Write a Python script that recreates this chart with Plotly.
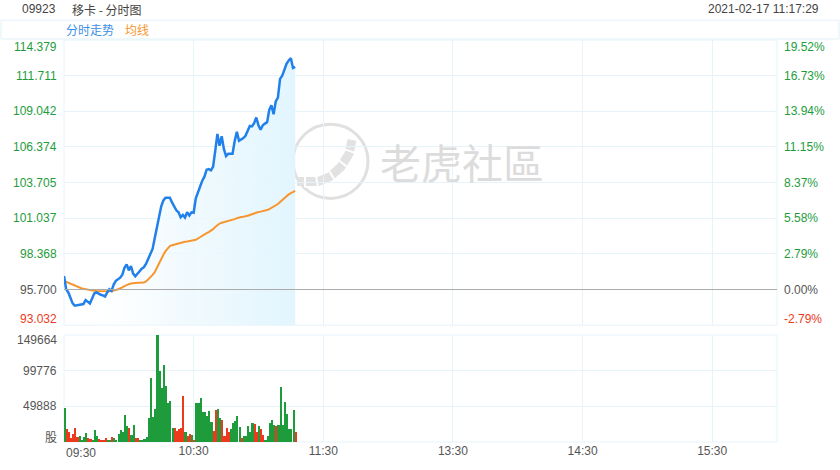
import plotly.graph_objects as go

# ---------------- data ----------------
minutes = list(range(108))  # minutes after 09:30
price = [96.72, 95.72, 95.48, 95.11, 94.66, 94.49, 94.51, 94.54, 94.59, 94.61,
         94.91, 94.81, 94.66, 95.03, 95.40, 95.48, 95.37, 95.31, 95.26, 95.18,
         95.48, 95.72, 95.60, 96.07, 96.35, 96.48, 96.59, 96.81, 97.33, 97.58,
         97.13, 97.46, 96.89, 96.69, 96.89, 97.03, 97.26, 97.37, 97.63, 98.00,
         98.37, 98.74, 99.55, 100.30, 101.19, 101.93, 102.37, 102.57, 102.57, 102.57,
         102.22, 101.93, 101.63, 101.48, 101.11, 101.28, 101.09, 101.48, 101.24, 101.48,
         101.45, 102.52, 103.04, 103.41, 103.85, 104.15, 104.67, 104.71, 104.62, 104.89,
         106.08, 107.34, 106.47, 107.17, 106.23, 105.69, 105.86, 105.86, 105.86, 106.82,
         107.51, 106.84, 106.93, 107.04, 107.21, 107.56, 107.95, 107.91, 108.15, 108.58,
         108.00, 107.66, 108.00, 108.12, 108.23, 109.14, 109.49, 108.82, 109.78, 110.06,
         111.47, 111.71, 112.16, 112.60, 112.85, 113.02, 112.28, 112.36]
avg_price = [96.35, 96.28, 96.22, 96.15, 96.07, 95.98, 95.90, 95.85, 95.80, 95.76,
             95.72, 95.69, 95.66, 95.63, 95.60, 95.59, 95.58, 95.57, 95.56, 95.55,
             95.56, 95.57, 95.58, 95.60, 95.66, 95.72, 95.77, 95.86, 95.96, 96.05,
             96.10, 96.15, 96.18, 96.20, 96.20, 96.21, 96.21, 96.22, 96.30, 96.45,
             96.59, 96.80, 97.00, 97.35, 97.70, 98.00, 98.30, 98.57, 98.75, 98.95,
             99.02, 99.07, 99.10, 99.13, 99.19, 99.25, 99.28, 99.30, 99.32, 99.34,
             99.35, 99.42, 99.52, 99.63, 99.75, 99.83, 99.92, 100.00, 100.10, 100.22,
             100.38, 100.52, 100.64, 100.70, 100.74, 100.77, 100.80, 100.84, 100.90, 100.97,
             101.04, 101.11, 101.13, 101.15, 101.16, 101.22, 101.28, 101.35, 101.42, 101.47,
             101.50, 101.53, 101.56, 101.60, 101.65, 101.72, 101.80, 101.88, 101.98, 102.10,
             102.25, 102.40, 102.57, 102.70, 102.82, 102.92, 103.03, 103.08]
volume = [48000, 18000, 14400, 5000, 11000, 19000, 6500, 8800, 2800, 7400,
          12500, 5500, 4000, 1800, 16600, 8800, 4000, 2800, 2800, 5000,
          1800, 2800, 7400, 6000, 1800, 10600, 16600, 13400, 37400, 22600,
          19400, 9700, 24000, 6000, 6000, 1800, 1800, 4000, 6500, 33000,
          89700, 35000, 46700, 149664, 99800, 75800, 108000, 78000, 54000, 57300,
          19400, 19800, 15700, 18000, 19400, 64200, 13400, 8800, 11500, 9700,
          3200, 54000, 54000, 61900, 42000, 42000, 36500, 43600, 28200, 15700,
          45000, 46700, 34000, 30600, 7900, 19000, 13400, 18000, 26000, 29700,
          36500, 21300, 6000, 7900, 7900, 22600, 13400, 26500, 25000, 14400,
          21700, 18000, 9700, 3200, 8800, 26000, 30600, 24000, 22600, 23500,
          77000, 24000, 56000, 39700, 18000, 18000, 45000, 14400]
vol_dir = list("grrrrrrgggg" "rrggg" "rrrr" "ggrggggggg" "rgg" "rr" "ggggg" "ggggggggggg"
               "rrrrr" "grrgrg" "gggggggrr" "ggrrrr" "ggggg" "rggggg" "rrgrrggggg" "rgg"
               "ggggggrg")
price_ticks = [93.032, 95.700, 98.368, 101.037, 103.705, 106.374, 109.042, 111.711, 114.379]
pct_labels = ["-2.79%", "0.00%", "2.79%", "5.58%", "8.37%", "11.15%", "13.94%", "16.73%", "19.52%"]
prev_close = 95.700
vol_ticks = [0, 49888, 99776, 149664]
vol_labels = ["股", "49888", "99776", "149664"]
time_ticks = [0, 60, 120, 180, 240, 300]
time_labels = ["09:30", "10:30", "11:30", "13:30", "14:30", "15:30"]
session_minutes = 330

vol_dir = (vol_dir + ["g"] * len(volume))[:len(volume)]

# ---------------- style ----------------
GREEN = "#1e9c3c"
RED = "#ee3a1c"
GRAY = "#555555"
GRID = "#e6f4fa"
FONT = "Arial, Liberation Sans, Noto Sans CJK SC, sans-serif"
CJK = "Noto Sans CJK SC, Arial, sans-serif"

W, H = 840, 470
SL, SR, ST, SB = 64, 777, 40, 446   # plot area in page pixels
L, T, R, B = SL, ST, W - SR, H - SB
PW, PH = W - L - R, H - T - B


def px_x(x):  # page x -> paper
    return (x - SL) / PW


def px_y(y):  # page y -> paper
    return (SB - y) / PH


price_dom = [px_y(328), 1.0]
vol_dom = [0.0, px_y(338)]

fig = go.Figure()

fig.add_trace(go.Scatter(
    x=minutes, y=price, mode="lines", line=dict(width=0),
    fill="tozeroy",
    fillgradient=dict(type="horizontal",
                      colorscale=[[0, "rgba(255,255,255,0)"],
                                  [0.5, "rgba(238,249,254,0.8)"],
                                  [1, "rgba(226,245,254,1)"]]),
    hoverinfo="skip", showlegend=False, xaxis="x", yaxis="y"))
fig.add_trace(go.Scatter(x=minutes, y=avg_price, mode="lines",
                         line=dict(color="#f7962e", width=2), showlegend=False,
                         xaxis="x", yaxis="y"))
fig.add_trace(go.Scatter(x=minutes, y=price, mode="lines",
                         line=dict(color="#2180ea", width=2.5), showlegend=False,
                         xaxis="x", yaxis="y"))
fig.add_trace(go.Bar(x=minutes, y=volume,
                     marker=dict(color=[GREEN if d == "g" else RED for d in vol_dir],
                                 line=dict(width=0)),
                     width=0.75, offset=0, showlegend=False,
                     xaxis="x2", yaxis="y2"))

axis_common = dict(showline=False, zeroline=False, showgrid=True, gridcolor=GRID,
                   gridwidth=1, ticks="")

fig.update_layout(
    width=W, height=H,
    margin=dict(l=L, r=R, t=T, b=B, pad=0),
    paper_bgcolor="white", plot_bgcolor="white",
    font=dict(family=FONT, size=12, color=GRAY),
    bargap=0,
    xaxis=dict(domain=[0, 1], range=[0, session_minutes], anchor="y",
               tickvals=time_ticks, showticklabels=False, **axis_common),
    yaxis=dict(domain=price_dom, range=[price_ticks[0], price_ticks[-1]], anchor="x",
               tickvals=price_ticks, showticklabels=False, **axis_common),
    xaxis2=dict(domain=[0, 1], range=[0, session_minutes], anchor="y2",
                tickvals=time_ticks[1:], ticktext=time_labels[1:],
                tickfont=dict(size=12, color=GRAY, family=FONT), **axis_common),
    yaxis2=dict(domain=vol_dom, range=[0, vol_ticks[-1]], anchor="x2",
                tickvals=vol_ticks, showticklabels=False, **axis_common),
)

shapes = []
for dom in (price_dom, vol_dom):
    shapes.append(dict(type="rect", xref="paper", yref="paper", x0=0, x1=1,
                       y0=dom[0], y1=dom[1], line=dict(color=GRID, width=1), layer="below"))
shapes.append(dict(type="line", xref="paper", yref="y", x0=0, x1=1,
                   y0=prev_close, y1=prev_close, line=dict(color="#aaaaaa", width=1)))
shapes.append(dict(type="rect", xref="paper", yref="paper", x0=px_x(1), x1=px_x(839),
                   y0=px_y(39), y1=px_y(20), line=dict(color="#e3f1f8", width=1)))
shapes.append(dict(type="circle", xref="paper", yref="paper",
                   x0=px_x(293), x1=px_x(368), y0=px_y(200), y1=px_y(125),
                   line=dict(color="#e0e0e0", width=3), layer="below"))


def pth(pts):
    return "M " + " L ".join(f"{px_x(a)},{px_y(b)}" for a, b in pts)


shapes.append(dict(type="path", xref="paper", yref="paper",
                   path=pth([(297, 183), (318, 183), (330, 178), (341, 168), (349, 155), (352, 141)]),
                   line=dict(color="#e2e2e2", width=9), layer="below"))
for a, b in [((305, 178), (305, 189)), ((316, 177), (318, 189)), ((329, 172), (335, 182)),
             ((338, 161), (347, 168)), ((343, 150), (355, 154))]:
    shapes.append(dict(type="line", xref="paper", yref="paper",
                       x0=px_x(a[0]), y0=px_y(a[1]), x1=px_x(b[0]), y1=px_y(b[1]),
                       line=dict(color="white", width=2), layer="below"))
fig.update_layout(shapes=shapes)

ann = []


def add_text(text, x, y, color=GRAY, size=12, xanchor="left", family=FONT):
    ann.append(dict(text=text, xref="paper", yref="paper", x=px_x(x), y=px_y(y),
                    xanchor=xanchor, yanchor="middle", showarrow=False,
                    font=dict(color=color, size=size, family=family)))


add_text("09923", 20, 9, color="#444444")
add_text("移卡 - 分时图", 70, 9, color="#444444", family=CJK)
add_text("2021-02-17 11:17:29", 821, 9, color="#444444", xanchor="right")
add_text("分时走势", 64, 29, color="#3d8fe6", family=CJK)
add_text("均线", 123, 29, color="#f7962e", family=CJK)

for i, (v, p) in enumerate(zip(price_ticks, pct_labels)):
    if v > prev_close + 1e-9:
        c = GREEN
    elif v < prev_close - 1e-9:
        c = RED
    else:
        c = GRAY
    shift = 0
    if i == len(price_ticks) - 1:
        shift = -7
    elif i == 0:
        shift = 6
    ann.append(dict(text=f"{v:.3f}", xref="paper", yref="y", x=0, y=v, xanchor="right",
                    yanchor="middle", xshift=-5, yshift=shift, showarrow=False,
                    font=dict(color=c, size=12, family=FONT)))
    ann.append(dict(text=p, xref="paper", yref="y", x=1, y=v, xanchor="left",
                    yanchor="middle", xshift=5, yshift=shift, showarrow=False,
                    font=dict(color=c, size=12, family=FONT)))

for i, (v, t) in enumerate(zip(vol_ticks, vol_labels)):
    shift = 6 if i == 0 else (-5 if i == len(vol_ticks) - 1 else 0)
    ann.append(dict(text=t, xref="paper", yref="y2", x=0, y=v, xanchor="right",
                    yanchor="middle", xshift=-5, yshift=shift, showarrow=False,
                    font=dict(color=GRAY, size=12, family=CJK if t == "股" else FONT)))

ann.append(dict(text=time_labels[0], xref="x2", yref="paper", x=time_ticks[0], y=px_y(457),
                xanchor="left", yanchor="middle", showarrow=False,
                font=dict(color=GRAY, size=12, family=FONT)))

add_text("老虎社區", 378, 162, color="#dcdcdc", size=41, family=CJK)

fig.update_layout(annotations=ann)
fig.write_html(
    "out.html",
    config={"displayModeBar": False},
    post_script="document.body.style.margin='0';document.body.style.overflow='hidden';",
)
